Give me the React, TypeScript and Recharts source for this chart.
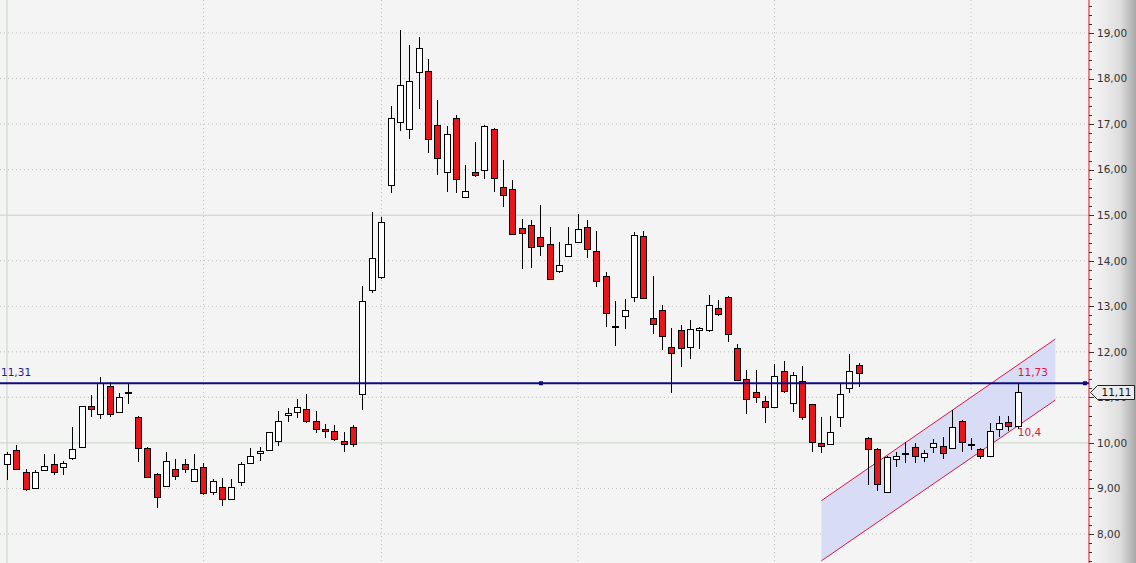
import { ComposedChart, Bar, Area, XAxis, YAxis, CartesianGrid, ReferenceLine, ReferenceDot } from "recharts";

// daily OHLC (left to right)
const opens = [
  9.54, 9.85, 9.36, 9.01, 9.41, 9.54, 9.47, 9.67, 9.91, 10.81, 10.64, 11.25, 10.68, 11.09, 10.57, 9.89, 9.32, 9.06, 9.43, 9.54,
  9.16, 9.47, 8.92, 9.03, 8.77, 9.14, 9.56, 9.78, 9.85, 10.04, 10.62, 10.68, 10.75, 10.48, 10.31, 10.26, 10.04, 10.35, 11.07, 13.36,
  13.64, 15.66, 17.05, 16.89, 18.14, 18.17, 16.98, 15.95, 17.13, 15.4, 15.95, 15.99, 16.89, 15.62, 15.58, 14.72, 14.78, 14.52, 14.37, 13.78,
  14.1, 14.41, 14.74, 14.21, 13.67, 12.54, 12.79, 13.2, 14.54, 12.74, 12.92, 12.11, 12.48, 12.11, 12.48, 12.48, 12.96, 13.2, 12.08, 11.4,
  11.12, 10.92, 10.79, 11.58, 10.88, 11.36, 10.85, 9.99, 9.98, 10.57, 11.21, 11.71, 10.11, 9.87, 8.92, 9.65, 9.75, 9.91, 9.69, 9.91,
  9.93, 9.89, 10.48, 9.97, 9.87, 9.71, 10.31, 10.46, 10.37,
];
const highs = [
  9.8, 9.95, 9.43, 9.41, 9.76, 9.76, 9.6, 10.35, 10.82, 11.05, 11.45, 11.34, 11.1, 11.32, 10.58, 9.9, 9.33, 9.8, 9.65, 9.65,
  9.76, 9.56, 9.21, 9.23, 9.21, 9.58, 9.89, 9.91, 10.25, 10.7, 10.77, 10.96, 11.07, 10.7, 10.42, 10.39, 10.24, 10.39, 13.45, 15.07,
  14.96, 17.4, 19.07, 18.74, 18.91, 18.43, 17.53, 16.96, 17.2, 16.1, 16.61, 16.97, 16.92, 16.21, 15.77, 14.92, 14.89, 15.22, 14.74, 14.41,
  14.74, 15.03, 14.89, 14.65, 13.75, 13.12, 13.16, 14.63, 14.65, 13.67, 13.03, 12.52, 12.59, 12.7, 12.55, 13.25, 13.14, 13.23, 12.17, 11.6,
  11.6, 11.03, 11.73, 11.8, 11.56, 11.69, 10.86, 10.57, 10.59, 11.29, 11.95, 11.76, 10.12, 9.88, 9.71, 9.8, 10.02, 10.0, 9.85, 10.09,
  10.13, 10.72, 10.5, 10.11, 9.88, 10.44, 10.59, 10.59, 11.32,
];
const lows = [
  9.19, 9.42, 8.95, 9.0, 9.4, 9.3, 9.3, 9.63, 9.9, 10.57, 10.53, 10.57, 10.66, 10.86, 9.58, 9.24, 8.57, 9.05, 9.19, 9.34,
  9.15, 8.86, 8.86, 8.62, 8.76, 9.05, 9.55, 9.6, 9.84, 9.93, 10.46, 10.55, 10.44, 10.22, 10.11, 10.04, 9.8, 9.91, 10.72, 13.29,
  13.6, 15.49, 16.85, 16.67, 17.33, 16.37, 15.88, 15.51, 15.49, 15.39, 15.84, 15.79, 15.51, 15.18, 14.57, 13.82, 13.84, 14.1, 13.58, 13.73,
  14.09, 14.4, 14.06, 13.42, 12.55, 12.13, 12.5, 13.09, 13.17, 12.39, 12.04, 11.1, 11.67, 11.84, 12.06, 12.44, 12.79, 12.22, 11.37, 10.64,
  10.88, 10.44, 10.78, 11.1, 10.68, 10.5, 9.8, 9.78, 9.97, 10.35, 11.1, 11.23, 9.08, 8.95, 8.91, 9.47, 9.56, 9.56, 9.58, 9.78,
  9.65, 9.88, 9.8, 9.85, 9.65, 9.69, 10.13, 10.26, 10.31,
];
const closes = [
  9.76, 9.43, 8.99, 9.36, 9.49, 9.36, 9.56, 9.87, 10.81, 10.75, 11.32, 10.64, 11.01, 11.11, 9.89, 9.25, 8.81, 9.6, 9.27, 9.43,
  9.43, 8.9, 9.16, 8.77, 9.03, 9.54, 9.71, 9.82, 10.24, 10.48, 10.65, 10.79, 10.48, 10.31, 10.26, 10.09, 9.98, 9.98, 13.12, 14.06,
  14.85, 17.13, 17.86, 17.95, 18.67, 16.67, 16.26, 16.78, 15.79, 15.53, 15.88, 16.96, 15.82, 15.44, 14.59, 14.61, 14.3, 14.32, 13.6, 13.91,
  14.37, 14.7, 14.26, 13.56, 12.85, 12.56, 12.92, 14.57, 13.18, 12.61, 12.35, 11.97, 12.08, 12.5, 12.52, 13.03, 12.83, 12.39, 11.38, 10.96,
  11.01, 10.79, 11.47, 11.14, 11.49, 10.57, 10.02, 9.93, 10.24, 11.07, 11.58, 11.54, 9.87, 9.1, 9.69, 9.71, 9.77, 9.71, 9.78, 10.0,
  9.78, 10.35, 10.02, 9.95, 9.71, 10.26, 10.44, 10.37, 11.11,
];

// rising channel drawn on the right
const channelSessions = [87, 112];
const channelLower = [7.41, 10.94];
const channelUpper = [8.73, 12.28];

const dottedPrices = [8, 9, 11, 12, 13, 14, 16, 17, 18, 19];
const solidPrices = [10, 15];
const dottedSessions = [21, 40, 61, 82, 103];
const solidSessions = [0];

const supportLevel = 11.31;
const lastClose = 11.11;
const channelTopLabel = "11,73";
const channelBottomLabel = "10,4";

const FONT = "DejaVu Sans";

const rows: any[] = opens.map((o, i) => ({ x: i, open: o, high: highs[i], low: lows[i], close: closes[i] }));
channelSessions.forEach((s, i) => {
  const band = [channelLower[i], channelUpper[i]];
  if (rows[s]) rows[s].band = band;
  else rows.push({ x: s, band });
});

// minor ticks every 0.2 between the labelled ones, last-price marker drawn last
const axisTicks: number[] = [];
for (let t = 74; t <= 196; t += 2) axisTicks.push(t / 10);
axisTicks.push(lastClose);

const fmt = (v: number, d = 2) => v.toFixed(d).replace(".", ",");

function Candle(props: any) {
  const { x, y, width, height, payload } = props;
  if (x == null || !payload || payload.high == null) return null;
  const top = Math.min(y, y + height);
  const h = Math.abs(height);
  const { open, close, high, low } = payload;
  const k = h / (high - low);
  const py = (v: number) => top + (high - v) * k;
  const c = Math.round(x + width / 2);
  const up = close >= open;
  const bt = Math.round(py(Math.max(open, close)));
  let bb = Math.round(py(Math.min(open, close)));
  if (bb - bt < 1) bb = bt + 1;
  return (
    <g>
      <line x1={c + 0.5} x2={c + 0.5} y1={Math.round(top)} y2={Math.round(top + h)} stroke="#000" />
      <rect x={c - 2.5} y={bt + 0.5} width={6} height={bb - bt} fill={up ? "#ffffff" : "#e8151b"} stroke="#000" />
    </g>
  );
}

function PriceTick(props: any) {
  const { x, y, payload } = props;
  const v = payload.value;
  if (v === lastClose) {
    const x0 = Math.round(x) + 1.5;
    const cy = Math.round(y) + 0.5;
    return (
      <g>
        <polygon
          points={`${x0},${cy} ${x0 + 7},${cy - 7} ${x0 + 44},${cy - 7} ${x0 + 44},${cy + 7} ${x0 + 7},${cy + 7}`}
          fill="#ececec"
          stroke="#222"
        />
        <text x={x0 + 26} y={cy} dy="0.36em" textAnchor="middle" fontSize={10.5} fill="#111" fontFamily={FONT}>
          {fmt(lastClose)}
        </text>
      </g>
    );
  }
  const major = Math.abs(v - Math.round(v)) < 1e-6;
  const yy = Math.round(y) + 0.5;
  return (
    <g>
      <line x1={x} x2={x + (major ? 5 : 3)} y1={yy} y2={yy} stroke="#333" />
      {major && (
        <text x={x + 8} y={y} dy="0.36em" fontSize={10.5} fill="#333" fontFamily={FONT}>
          {fmt(v)}
        </text>
      )}
    </g>
  );
}

export default function App() {
  return (
    <div
      style={{
        position: "absolute",
        left: 0,
        top: 0,
        width: 1136,
        height: 563,
        overflow: "hidden",
        background:
          "linear-gradient(to right, #f4f4f4 0px, #f4f4f4 1089px, #efefef 1100px, #dedede 1120px, #a9a9a9 1136px)",
      }}
    >
      <ComposedChart width={1136} height={563} data={rows} margin={{ top: 0, right: 0, bottom: 0, left: 0 }}>
        <CartesianGrid
          horizontalValues={dottedPrices}
          verticalValues={dottedSessions}
          stroke="#bdbdbd"
          strokeDasharray="1 3"
        />
        <CartesianGrid horizontalValues={solidPrices} verticalValues={solidSessions} stroke="#c4d4c4" />
        <XAxis dataKey="x" type="number" domain={[-0.748, 115.6]} allowDataOverflow hide />
        <YAxis
          orientation="right"
          width={47}
          domain={[7.363, 19.725]}
          allowDataOverflow
          ticks={axisTicks}
          interval={0}
          tickSize={0}
          tickMargin={0}
          tickLine={false}
          tick={<PriceTick />}
          axisLine={{ stroke: "#d0121b" }}
        />
        <Area
          dataKey="band"
          type="linear"
          connectNulls
          stroke="#e0143c"
          strokeWidth={1}
          fill="#d9dcf5"
          fillOpacity={1}
          dot={false}
          activeDot={false}
          isAnimationActive={false}
        />
        <Bar
          dataKey={(d: any) => (d.low == null ? null : [d.low, d.high])}
          barSize={7}
          shape={<Candle />}
          isAnimationActive={false}
        />
        <ReferenceLine y={supportLevel} stroke="#0c0c80" strokeWidth={2} />
        <ReferenceDot
          x={-0.748}
          y={supportLevel}
          r={0}
          ifOverflow="visible"
          shape={(p: any) => (
            <text x={p.cx + 1} y={p.cy - 7} fontSize={10.5} fill="#1c1c8c" fontFamily={FONT}>
              {fmt(supportLevel)}
            </text>
          )}
        />
        <ReferenceDot
          x={57.05}
          y={supportLevel}
          r={2}
          ifOverflow="visible"
          shape={(p: any) => <rect x={p.cx - 2} y={p.cy - 2} width={4} height={4} fill="#0c0c80" />}
        />
        <ReferenceDot
          x={115.17}
          y={supportLevel}
          r={2}
          ifOverflow="visible"
          shape={(p: any) => <rect x={p.cx - 2} y={p.cy - 2} width={4} height={4} fill="#0c0c80" />}
        />
        <ReferenceDot
          x={108}
          y={11.56}
          r={0}
          ifOverflow="visible"
          shape={(p: any) => (
            <text x={p.cx} y={p.cy} dy="0.36em" fontSize={10.5} fill="#e0143c" fontFamily={FONT}>
              {channelTopLabel}
            </text>
          )}
        />
        <ReferenceDot
          x={108}
          y={10.24}
          r={0}
          ifOverflow="visible"
          shape={(p: any) => (
            <text x={p.cx} y={p.cy} dy="0.36em" fontSize={10.5} fill="#e0143c" fontFamily={FONT}>
              {channelBottomLabel}
            </text>
          )}
        />
      </ComposedChart>
    </div>
  );
}
